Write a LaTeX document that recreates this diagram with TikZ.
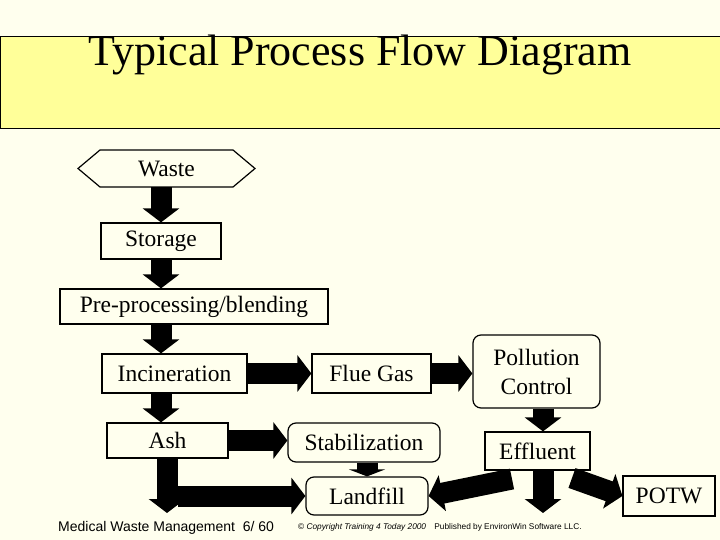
\documentclass[tikz,border=0pt]{standalone}
\usepackage{fontspec}
\setmainfont{Liberation Serif}
\newfontfamily\arialf{Liberation Sans}
\usetikzlibrary{arrows.meta,shapes.geometric,shapes.misc}
\definecolor{bgc}{HTML}{FFFFEE}
\definecolor{ttl}{HTML}{FFFF99}
\begin{document}
\begin{tikzpicture}[x=1pt,y=-1pt,
  box/.style={draw,line width=1.2pt,fill=bgc,inner sep=0pt,font=\fontsize{23.5}{26}\selectfont},
  rbox/.style={box,rounded corners=8pt},
  blk/.style={line width=21pt,-{Triangle[length=14pt,width=36pt]}},
  lbl/.style={inner sep=0pt}]
\fill[bgc] (0,0) rectangle (720,540);
\useasboundingbox (0,0) rectangle (720,540);
\draw[fill=ttl,line width=1pt] (0,37) rectangle (722,129);
\node[lbl,font=\fontsize{44}{48}\selectfont] (title) at (360,55) {Typical Process Flow Diagram};
% nodes
\draw[box] (78,168.5) -- (100,150) -- (233,150) -- (255,168.5) -- (233,187) -- (100,187) -- cycle;
\node[lbl,font=\fontsize{23.5}{26}\selectfont,minimum width=177pt,minimum height=37pt] (waste) at (166.5,168.5) {Waste};
\node[box,minimum width=120pt,minimum height=36pt] (storage) at (161,241) {Storage};
\node[box,minimum width=268pt,minimum height=35pt] (pre) at (194,306.5) {Pre-processing/blending};
\node[box,minimum width=145pt,minimum height=39pt] (inc) at (174.5,373.5) {Incineration};
\node[box,minimum width=119pt,minimum height=39pt] (flue) at (371.5,373.5) {Flue Gas};
\node[rbox,minimum width=127pt,minimum height=73pt,align=center,font=\fontsize{23.5}{29}\selectfont] (poll) at (536.5,371.5) {Pollution\\Control};
\node[box,minimum width=121pt,minimum height=35pt] (ash) at (167.5,440.5) {Ash};
\node[rbox,minimum width=152pt,minimum height=39pt] (stab) at (364,442.5) {Stabilization};
\node[box,minimum width=105pt,minimum height=38pt] (eff) at (537.5,451) {Effluent};
\node[rbox,minimum width=122pt,minimum height=38pt] (land) at (367,496) {Landfill};
\node[box,minimum width=92pt,minimum height=40pt] (potw) at (669,496) {POTW};
% free ends
\coordinate (ashend) at (167,513);
\coordinate (ashstart) at (178,496);
\coordinate (effend) at (543,513);
\coordinate (e1) at (512,479);
\coordinate (e2) at (572,478);
% arrows
\draw[blk] (waste.south -| storage) -- (storage.north);
\draw[blk] (storage.south) -- (storage.south |- pre.north);
\draw[blk] (storage.south |- pre.south) -- (storage.south |- inc.north);
\draw[blk] (inc.east) -- (flue.west);
\draw[blk] (flue.east) -- (flue.east -| poll.west);
\draw[blk] (storage.south |- inc.south) -- (storage.south |- ash.north);
\draw[blk] (ash.east) -- (ash.east -| stab.west);
\draw[line width=21pt,-{Triangle[length=7pt,width=36pt]}] (stab.south -| land.north) -- (land.north);
\draw[blk] (ash.south -| ashend) -- (ashend);
\draw[blk] (ashstart) -- (land.west);
\draw[blk] (poll.south -| effend) -- (eff.north -| effend);
\draw[blk] (eff.south -| effend) -- (effend);
\draw[blk] (e1) -- (land.east);
\draw[blk] (e2) -- (potw.west);
% footer
\node[lbl,font=\arialf\fontsize{14}{16}\selectfont,anchor=west] (foot) at (58,528) {Medical Waste Management\ \ 6/ 60};
\node[lbl,font=\arialf\fontsize{8.3}{10}\selectfont,anchor=west] (copy) at (298,527) {\textcopyright\ \textit{Copyright Training 4 Today 2000}\quad Published by EnvironWin Software LLC.};
\end{tikzpicture}
\end{document}
